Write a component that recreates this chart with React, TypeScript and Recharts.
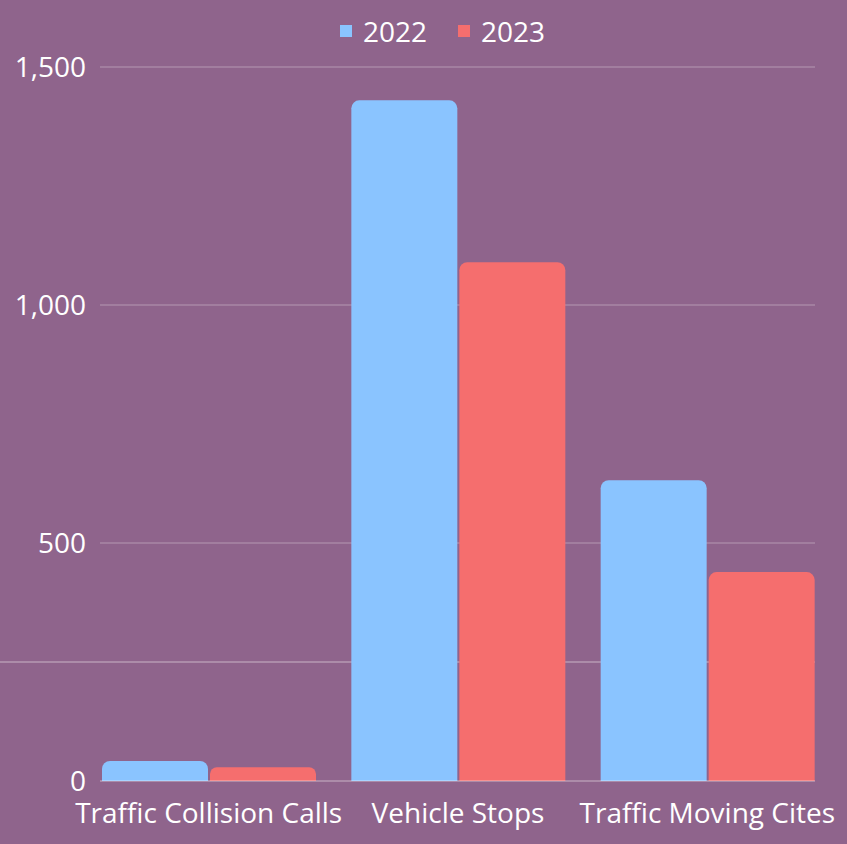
import React from 'react'
import { BarChart, Bar, XAxis, YAxis, CartesianGrid } from 'recharts'

const categories = ['Traffic Collision Calls', 'Vehicle Stops', 'Traffic Moving Cites']
const values2022 = [42, 1430, 632]
const values2023 = [29, 1090, 439]
const yTicks = [0, 500, 1000, 1500]
const gridValues = [250, 500, 1000, 1500]

const SERIES = [
  { key: 'y2022', name: '2022', color: '#8ac4ff' },
  { key: 'y2023', name: '2023', color: '#f56e6e' },
]

const BG = '#8f648c'
const GRID = 'rgba(255,255,255,0.35)'
const FONT = '"Open Sans", "Noto Sans", sans-serif'

const data = categories.map((name, i) => ({ name, y2022: values2022[i], y2023: values2023[i] }))

// the unlabeled 250 line runs all the way to the left edge in the original
const GridLine = (props: any) => (
  <line
    key={props.key}
    x1={props.index === 0 ? 0 : props.x1}
    y1={props.y1}
    x2={props.x2}
    y2={props.y2}
    stroke={GRID}
    strokeWidth={props.index === 0 ? 1.5 : 1}
  />
)

function Legend() {
  return (
    <div style={{ position: 'absolute', left: 340, top: 17, display: 'flex', gap: 31, fontFamily: FONT, fontSize: 28, lineHeight: '28px', color: '#fff' }}>
      {SERIES.map(s => (
        <div key={s.key} style={{ display: 'flex', alignItems: 'center', gap: 11 }}>
          <span style={{ width: 12, height: 12, background: s.color, display: 'inline-block' }} />
          <span>{s.name}</span>
        </div>
      ))}
    </div>
  )
}

export default function App() {
  return (
    <div style={{ position: 'absolute', left: 0, top: 0, width: 847, height: 844, background: BG, overflow: 'hidden' }}>
      <Legend />
      <BarChart
        width={847}
        height={844}
        data={data}
        margin={{ top: 67, right: 32, bottom: 0, left: 0 }}
        barCategoryGap={18}
        barGap={2}
      >
        <CartesianGrid vertical={false} horizontalValues={gridValues} horizontal={GridLine} />
        <XAxis
          dataKey="name"
          height={63}
          padding={{ left: -16, right: -17 }}
          axisLine={{ stroke: GRID, strokeWidth: 1.5 }}
          tickLine={false}
          tickMargin={16}
          tick={{ fill: '#fff', fontSize: 28, fontFamily: FONT }}
          interval={0}
        />
        <YAxis
          width={100}
          domain={[0, 1500]}
          ticks={yTicks}
          axisLine={false}
          tickLine={false}
          tickMargin={8}
          tickFormatter={(v: number) => v.toLocaleString('en-US')}
          tick={{ fill: '#fff', fontSize: 28, fontFamily: FONT }}
        />
        {SERIES.map(s => (
          <Bar key={s.key} dataKey={s.key} name={s.name} fill={s.color} radius={[8, 8, 0, 0]} isAnimationActive={false} />
        ))}
      </BarChart>
    </div>
  )
}
